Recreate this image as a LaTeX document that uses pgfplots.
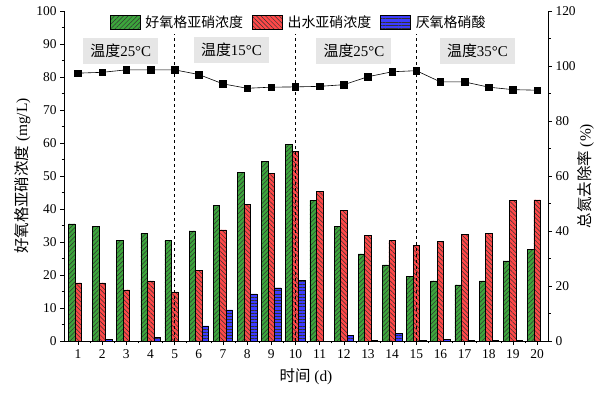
\documentclass[border=0pt]{standalone}
\usepackage{pgfplots}
\pgfplotsset{compat=1.18}
\usetikzlibrary{patterns.meta}
\usepackage{fontspec}
\setmainfont{Liberation Serif}
\newfontfamily\cjk{Noto Sans CJK SC}
\definecolor{cgreen}{RGB}{60,165,60}
\definecolor{cred}{RGB}{255,72,72}
\definecolor{cblue}{RGB}{60,60,255}
\definecolor{boxgray}{RGB}{230,230,230}
\begin{document}
\begin{tikzpicture}
\path[use as bounding box] (0,0) rectangle (595bp,393bp);
\pgfplotsset{
  every tick label/.append style={font=\fontsize{13.5}{13.5}\selectfont},
  /pgf/number format/assume math mode=true,
  every axis label/.append style={font=\fontsize{15.5}{15.5}\selectfont},
}
\begin{axis}[
  scale only axis, width=484bp, height=330bp,
  at={(64bp,52bp)}, anchor=south west,
  xmin=0.42, xmax=20.45, ymin=0, ymax=100,
  axis y line*=left, axis x line*=bottom,
  xtick={1,...,20}, minor x tick num=1,
  ytick={0,10,...,100}, minor y tick num=1,
  tick align=outside, major tick length=4bp, minor tick length=2.5bp,
  tick style={black, line width=0.6bp},
  axis line style={line width=0.7bp},
  xticklabel style={yshift=-1bp},
  ybar=0pt, bar width=6.5bp,
  xlabel={{\cjk 时间} (d)},
  ylabel={{\cjk 好氧格亚硝浓度} (mg/L)},
  xlabel style={yshift=-3bp},
  ylabel style={yshift=-1bp},
  legend style={draw=none, fill=none, at={(0.485,0.998)}, anchor=north,
    legend columns=3, font=\fontsize{14}{14}\selectfont,
    column sep=3bp, /tikz/every even column/.append style={column sep=7bp}},
  legend image code/.code={\draw[#1] (0bp,-7bp) rectangle (30bp,7bp);},
]
\addplot[draw=black, line width=0.5bp, fill=cgreen,
  postaction={pattern={Lines[angle=45,distance=3.2bp,line width=0.5bp]}, pattern color=black!80}]
coordinates {(1,35.5) (2,34.7) (3,30.4) (4,32.5) (5,30.4) (6,33.4) (7,41.0) (8,51.0) (9,54.4) (10,59.6)
(11,42.5) (12,34.7) (13,26.4) (14,23.1) (15,19.5) (16,18.2) (17,17.0) (18,18.2) (19,24.3) (20,27.7)};
\addlegendentry{\cjk 好氧格亚硝浓度}
\addplot[draw=black, line width=0.5bp, fill=cred,
  postaction={pattern={Lines[angle=-45,distance=3.2bp,line width=0.5bp]}, pattern color=black!80}]
coordinates {(1,17.6) (2,17.6) (3,15.5) (4,18.2) (5,14.9) (6,21.3) (7,33.7) (8,41.3) (9,50.8) (10,57.4)
(11,45.3) (12,39.5) (13,31.9) (14,30.4) (15,28.9) (16,30.3) (17,32.2) (18,32.5) (19,42.5) (20,42.8)};
\addlegendentry{\cjk 出水亚硝浓度}
\addplot[draw=black, line width=0.5bp, fill=cblue,
  postaction={pattern={Lines[angle=0,distance=3.2bp,line width=0.5bp]}, pattern color=black!80}]
coordinates {(1,0) (2,0.5) (3,0) (4,1.2) (5,0) (6,4.6) (7,9.4) (8,14.3) (9,16.1) (10,18.3)
(11,0) (12,1.8) (13,0.3) (14,2.3) (15,0.2) (16,0.4) (17,0.1) (18,0.1) (19,0.2) (20,0)};
\addlegendentry{\cjk 厌氧格硝酸}
\draw[dashed, dash pattern=on 3bp off 3bp, line width=0.6bp] (axis cs:5,0) -- (axis cs:5,93);
\draw[dashed, dash pattern=on 3bp off 3bp, line width=0.6bp] (axis cs:10,0) -- (axis cs:10,93);
\draw[dashed, dash pattern=on 3bp off 3bp, line width=0.6bp] (axis cs:15,0) -- (axis cs:15,93);
\tikzset{tbox/.style={fill=boxgray, minimum width=75bp, minimum height=26bp, inner sep=2bp,
  font=\fontsize{15}{15}\selectfont}}
\node[tbox] at (axis cs:2.77,87.8) {{\cjk 温度}25°C};
\node[tbox] at (axis cs:7.35,88.2) {{\cjk 温度}15°C};
\node[tbox] at (axis cs:12.42,87.8) {{\cjk 温度}25°C};
\node[tbox] at (axis cs:17.53,87.8) {{\cjk 温度}35°C};
\end{axis}
\begin{axis}[
  scale only axis, width=484bp, height=330bp,
  at={(64bp,52bp)}, anchor=south west,
  xmin=0.42, xmax=20.45, ymin=0, ymax=120,
  axis y line*=right, axis x line=none,
  ytick={0,20,...,120}, minor y tick num=1,
  tick align=outside, major tick length=4bp, minor tick length=2.5bp,
  tick style={black, line width=0.6bp},
  axis line style={line width=0.7bp},
  ylabel={{\cjk 总氮去除率} (\%)},
  ylabel style={yshift=5bp},
]
\addplot[black, line width=0.6bp, mark=square*, mark size=3.3bp]
coordinates {(1,97.4) (2,97.7) (3,98.6) (4,98.6) (5,98.6) (6,96.9) (7,93.5) (8,91.9) (9,92.3) (10,92.4)
(11,92.6) (12,93.2) (13,96.1) (14,97.9) (15,98.3) (16,94.2) (17,94.2) (18,92.3) (19,91.4) (20,91.2)};
\end{axis}
\end{tikzpicture}
\end{document}
